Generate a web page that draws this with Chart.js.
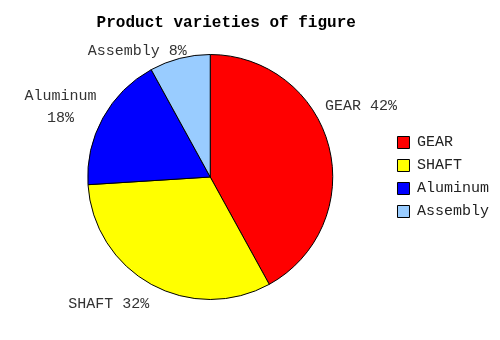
<!DOCTYPE html>
<html>
<head>
<meta charset="utf-8">
<script src="https://cdn.jsdelivr.net/npm/chart.js@4.4.1/dist/chart.umd.min.js"></script>
<style>
  html, body { margin: 0; padding: 0; background: #fff; }
  #wrap { width: 500px; height: 340px; }
</style>
</head>
<body>
<div id="wrap"><canvas id="grafico"></canvas></div>
<script>
// dados do gráfico
const titulo = 'Product varieties of figure';
const categorias = ['GEAR', 'SHAFT', 'Aluminum', 'Assembly'];
const valores = [42, 32, 18, 8];
const cores = ['#ff0000', '#ffff00', '#0000ff', '#99ccff'];

const fonte = "'Liberation Mono', 'DejaVu Sans Mono', monospace";

// ajuste fino de cada rótulo em relação ao ângulo médio da fatia
const ajustes = [
    { dx: 3, dy: -33 },
    { dx: -28, dy: -7 },
    { dx: -16, dy: 3 },
    { dx: -35, dy: 22 }
];

const rotulosFatias = {
    id: 'rotulosFatias',
    afterDatasetsDraw(chart) {
        const ctx = chart.ctx;
        const meta = chart.getDatasetMeta(0);
        ctx.save();
        ctx.font = '15px ' + fonte;
        ctx.fillStyle = '#333';
        ctx.textAlign = 'center';
        ctx.textBaseline = 'middle';
        meta.data.forEach((arc, i) => {
            const p = arc.getProps(['x', 'y', 'startAngle', 'endAngle', 'outerRadius'], true);
            const meio = (p.startAngle + p.endAngle) / 2;
            const dist = p.outerRadius + 30;
            const x = p.x + Math.cos(meio) * dist + ajustes[i].dx;
            const y = p.y + Math.sin(meio) * dist + ajustes[i].dy;
            if (categorias[i] === 'Aluminum') {
                ctx.fillText(categorias[i], x, y - 11);
                ctx.fillText(valores[i] + '%', x, y + 11);
            } else {
                ctx.fillText(categorias[i] + ' ' + valores[i] + '%', x, y);
            }
        });

        // título (um pouco à direita do centro do gráfico, como no original)
        ctx.font = 'bold 16px ' + fonte;
        ctx.fillStyle = '#000';
        ctx.fillText(titulo, p0x(chart) + 16, 23);
        ctx.restore();
    }
};

function p0x(chart) {
    return (chart.chartArea.left + chart.chartArea.right) / 2;
}

new Chart(document.getElementById('grafico'), {
    type: 'pie',
    data: {
        labels: categorias,
        datasets: [{
            data: valores,
            backgroundColor: cores,
            borderColor: '#000',
            borderWidth: 1
        }]
    },
    options: {
        responsive: true,
        maintainAspectRatio: false,
        animation: false,
        layout: {
            padding: { left: 31, right: 1, top: 54, bottom: 40 }
        },
        plugins: {
            title: { display: false },
            legend: {
                position: 'right',
                labels: {
                    color: '#222',
                    boxWidth: 12,
                    boxHeight: 12,
                    padding: 8,
                    font: { family: fonte, size: 15 }
                }
            },
            tooltip: { enabled: false }
        }
    },
    plugins: [rotulosFatias]
});
</script>
</body>
</html>
